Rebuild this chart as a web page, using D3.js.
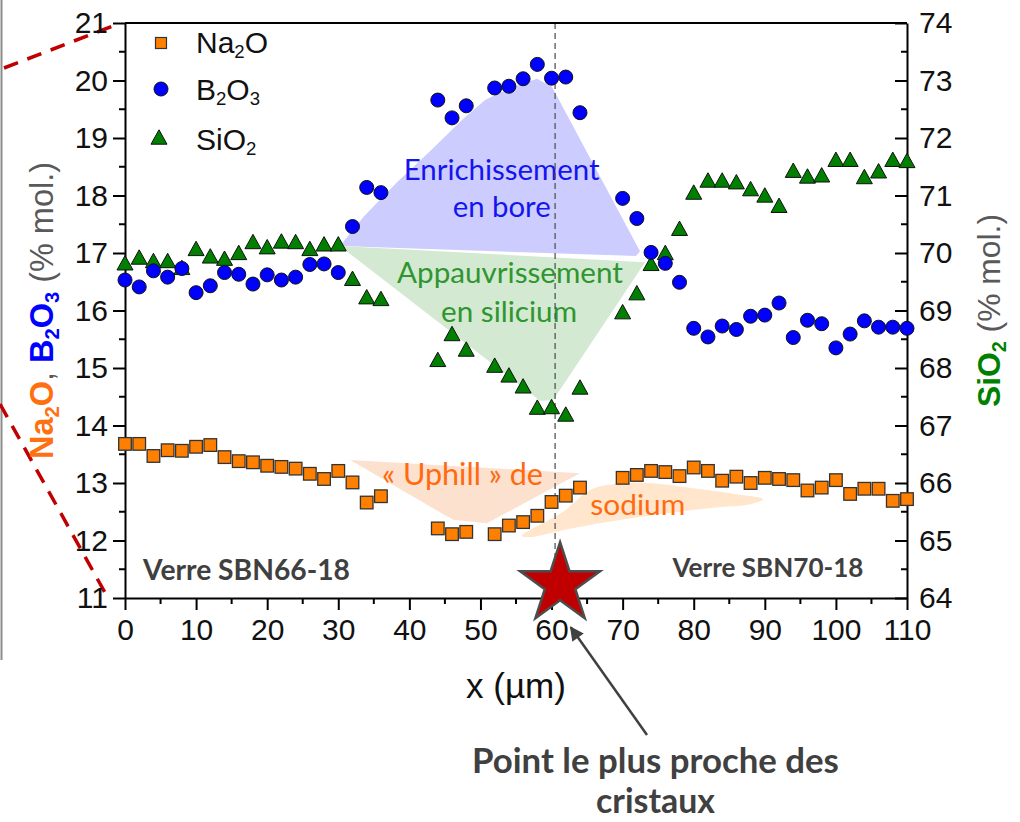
<!DOCTYPE html>
<html>
<head>
<meta charset="utf-8">
<script src="https://cdn.jsdelivr.net/npm/d3@7"></script>
<style>
  body { margin: 0; background: #fff; }
  svg { display: block; }
</style>
</head>
<body>
<div id="chart"></div>
<script>
// positions along the profile (µm)
const xPos = [0, 2, 4, 6, 8, 10, 12, 14, 16, 18, 20, 22, 24, 26, 28, 30, 32, 34, 36,
  44, 46, 48, 52, 54, 56, 58, 60, 62, 64,
  70, 72, 74, 76, 78, 80, 82, 84, 86, 88, 90, 92, 94, 96, 98, 100, 102, 104, 106, 108, 110];

const na2o = [13.68, 13.68, 13.47, 13.57, 13.56, 13.63, 13.66, 13.45, 13.38, 13.36, 13.30, 13.28, 13.25, 13.16, 13.07, 13.21, 13.01, 12.66, 12.77,
  12.21, 12.11, 12.15, 12.11, 12.26, 12.32, 12.43, 12.67, 12.78, 12.92,
  13.09, 13.14, 13.21, 13.19, 13.12, 13.27, 13.21, 13.04, 13.11, 13.00, 13.09, 13.07, 13.05, 12.87, 12.92, 13.05, 12.81, 12.90, 12.90, 12.69, 12.72];

const b2o3 = [16.53, 16.41, 16.69, 16.58, 16.73, 16.31, 16.43, 16.66, 16.63, 16.46, 16.62, 16.53, 16.58, 16.80, 16.81, 16.66, 17.46, 18.14, 18.05,
  19.66, 19.35, 19.56, 19.87, 19.90, 20.03, 20.28, 20.04, 20.06, 19.44,
  17.95, 17.60, 17.01, 16.82, 16.49, 15.69, 15.54, 15.73, 15.67, 15.90, 15.92, 16.13, 15.53, 15.83, 15.77, 15.35, 15.59, 15.82, 15.71, 15.71, 15.69];

const sio2 = [69.83, 69.93, 69.87, 69.87, 69.75, 70.08, 69.95, 69.91, 70.01, 70.20, 70.11, 70.21, 70.20, 70.08, 70.16, 70.16, 69.56, 69.24, 69.21,
  68.15, 68.60, 68.33, 68.05, 67.88, 67.69, 67.32, 67.33, 67.20, 67.67,
  68.98, 69.31, 69.82, 70.01, 70.43, 71.06, 71.27, 71.27, 71.24, 71.12, 71.01, 70.83, 71.44, 71.34, 71.36, 71.63, 71.63, 71.33, 71.43, 71.63, 71.61];

const xTicks = [0, 10, 20, 30, 40, 50, 60, 70, 80, 90, 100, 110];
const xMinor = [5, 15, 25, 35, 45, 55, 65, 75, 85, 95, 105];
const leftTicks = [11, 12, 13, 14, 15, 16, 17, 18, 19, 20, 21];
const leftMinor = [11.5, 12.5, 13.5, 14.5, 15.5, 16.5, 17.5, 18.5, 19.5, 20.5];
const rightTicks = [64, 65, 66, 67, 68, 69, 70, 71, 72, 73, 74];
const rightMinor = [64.5, 65.5, 66.5, 67.5, 68.5, 69.5, 70.5, 71.5, 72.5, 73.5];

// shaded zones, in (x µm, left-axis %) units
const boronZone = [[30.24, 17.12], [33.62, 17.64], [38.26, 18.23], [42.9, 18.77], [47.55, 19.33], [50.64, 19.66],
  [54.16, 19.87], [57.95, 20.03], [60.06, 19.89], [72.44, 17.03], [71.88, 16.95]];
const siliconZone = [[30.24, 17.12], [73.15, 16.84], [60.21, 14.44], [58.38, 14.43]];
const uphillZone = [[31.65, 13.40], [64.0, 13.17], [50.92, 12.30], [46.14, 12.36]];
const sodiumZone = [[55.85, 12.08], [61.61, 12.50], [65.41, 12.88], [68.65, 12.98], [73.43, 13.0], [80.46, 12.9],
  [85.81, 12.81], [89.75, 12.72], [87.5, 12.62], [82.72, 12.57], [68.65, 12.34], [61.61, 12.18], [56.97, 12.06]];

const crystalX = 60.5;

const width = 1020;
const height = 822;
const margin = { top: 23, right: 113, bottom: 224, left: 125 };

const x = d3.scaleLinear().domain([0, 110]).range([margin.left, width - margin.right]);
const yL = d3.scaleLinear().domain([11, 21]).range([height - margin.bottom, margin.top]);
const yR = d3.scaleLinear().domain([64, 74]).range([height - margin.bottom, margin.top]);

const svg = d3.select("#chart").append("svg")
  .attr("width", width)
  .attr("height", height)
  .style("font-family", "'Liberation Sans', Arial, sans-serif");

svg.append("rect").attr("width", width).attr("height", height).attr("fill", "#fff");

// frame / zoom cues from the composite figure
svg.append("line").attr("x1", 1.5).attr("x2", 1.5).attr("y1", 0).attr("y2", 660)
  .attr("stroke", "#8c8c8c").attr("stroke-width", 2);
svg.append("line").attr("x1", 4).attr("y1", 68).attr("x2", 118).attr("y2", 24)
  .attr("stroke", "#c00000").attr("stroke-width", 3.5).attr("stroke-dasharray", "15,10");
svg.append("line").attr("x1", 0).attr("y1", 404).attr("x2", 108).attr("y2", 598)
  .attr("stroke", "#c00000").attr("stroke-width", 3.5).attr("stroke-dasharray", "15,10");

const zoneLine = d3.line().x((d) => x(d[0])).y((d) => yL(d[1]));

svg.append("path").datum(boronZone)
  .attr("fill", "#ccccff")
  .attr("d", zoneLine.curve(d3.curveLinearClosed));
svg.append("path").datum(siliconZone)
  .attr("fill", "#d3e9d2")
  .attr("d", zoneLine.curve(d3.curveLinearClosed));
svg.append("path").datum(uphillZone)
  .attr("fill", "#fde1cf")
  .attr("d", zoneLine.curve(d3.curveLinearClosed));
svg.append("path").datum(sodiumZone)
  .attr("fill", "#ffe6cc")
  .attr("d", zoneLine.curve(d3.curveCatmullRomClosed));

function fitText(t, w) {
  const base = +t.attr("font-size");
  const len = t.node().getComputedTextLength();
  t.attr("font-size", (base * w) / len);
  return t;
}

const calibri = "Lato, 'Open Sans', sans-serif";

const notes = [
  { text: "Enrichissement", x: 52.99, y: 18.27, w: 196, color: "#1414f0" },
  { text: "en bore", x: 52.99, y: 17.63, w: 98, color: "#1414f0" },
  { text: "Appauvrissement", x: 54.16, y: 16.48, w: 226, color: "#2f962f" },
  { text: "en silicium", x: 54.02, y: 15.8, w: 136, color: "#2f962f" },
  { text: "« Uphill » de", x: 47.47, y: 12.97, w: 161, color: "#ff6a10" },
  { text: "sodium", x: 72.14, y: 12.44, w: 95, color: "#ff6a10" },
];

notes.forEach((n) => {
  const t = svg.append("text")
    .attr("x", x(n.x)).attr("y", yL(n.y))
    .attr("text-anchor", "middle")
    .attr("font-family", calibri)
    .attr("font-size", 26)
    .attr("fill", n.color)
    .text(n.text);
  fitText(t, n.w);
});

// vertical dashed line at the closest point to the crystals
svg.append("line")
  .attr("x1", x(crystalX)).attr("x2", x(crystalX))
  .attr("y1", yL(21)).attr("y2", yL(11))
  .attr("stroke", "#555").attr("stroke-width", 1.3).attr("stroke-dasharray", "6,4");

// axes
const axisFont = (g) => g.selectAll("text").attr("font-size", 30).attr("fill", "#111")
  .attr("font-family", "'Liberation Sans', Arial, sans-serif");

svg.append("g")
  .attr("transform", `translate(0,${yL(11)})`)
  .call(d3.axisBottom(x).tickValues(xTicks).tickSize(12).tickSizeOuter(0).tickPadding(9))
  .call(axisFont);
svg.append("g")
  .attr("transform", `translate(0,${yL(11)})`)
  .selectAll("line").data(xMinor).join("line")
  .attr("x1", (d) => x(d)).attr("x2", (d) => x(d)).attr("y1", 0).attr("y2", 6)
  .attr("stroke", "#000").attr("stroke-width", 2);

svg.append("g")
  .attr("transform", `translate(${x(0)},0)`)
  .call(d3.axisLeft(yL).tickValues(leftTicks).tickSize(12).tickSizeOuter(0).tickPadding(5))
  .call(axisFont);
svg.append("g")
  .attr("transform", `translate(${x(0)},0)`)
  .selectAll("line").data(leftMinor).join("line")
  .attr("y1", (d) => yL(d)).attr("y2", (d) => yL(d)).attr("x1", 0).attr("x2", -6)
  .attr("stroke", "#000").attr("stroke-width", 2);

svg.append("g")
  .attr("transform", `translate(${x(110)},0)`)
  .call(d3.axisRight(yR).tickValues(rightTicks).tickSizeInner(-12).tickSizeOuter(0).tickPadding(12))
  .call(axisFont);
svg.append("g")
  .attr("transform", `translate(${x(110)},0)`)
  .selectAll("line").data(rightMinor).join("line")
  .attr("y1", (d) => yR(d)).attr("y2", (d) => yR(d)).attr("x1", 0).attr("x2", -6)
  .attr("stroke", "#000").attr("stroke-width", 2);

svg.append("line")
  .attr("x1", x(0)).attr("x2", x(110)).attr("y1", yL(21)).attr("y2", yL(21))
  .attr("stroke", "#000").attr("stroke-width", 2);

svg.selectAll(".domain").attr("stroke-width", 2);
svg.selectAll(".tick line").attr("stroke-width", 2);

// markers
const tri = (s) => `M0,${-s * 0.9}L${s},${s * 0.9}L${-s},${s * 0.9}Z`;

const pts = xPos.map((d, i) => ({ x: d, na: na2o[i], b: b2o3[i], si: sio2[i] }));

svg.append("g").selectAll("path").data(pts).join("path")
  .attr("d", tri(8))
  .attr("transform", (d) => `translate(${x(d.x)},${yR(d.si)})`)
  .attr("fill", "#007f00").attr("stroke", "#111").attr("stroke-width", 1);

svg.append("g").selectAll("circle").data(pts).join("circle")
  .attr("cx", (d) => x(d.x)).attr("cy", (d) => yL(d.b)).attr("r", 7)
  .attr("fill", "#0000ff").attr("stroke", "#111").attr("stroke-width", 1);

svg.append("g").selectAll("rect").data(pts).join("rect")
  .attr("x", (d) => x(d.x) - 6.3).attr("y", (d) => yL(d.na) - 6.3)
  .attr("width", 12.6).attr("height", 12.6)
  .attr("fill", "#ff8000").attr("stroke", "#333").attr("stroke-width", 1.3);

// legend
const legend = svg.append("g").attr("font-size", 30).attr("fill", "#111");
legend.append("rect").attr("x", 155.5).attr("y", 37.5).attr("width", 11).attr("height", 11)
  .attr("fill", "#ff8000").attr("stroke", "#333").attr("stroke-width", 1.2);
legend.append("circle").attr("cx", 161).attr("cy", 89).attr("r", 7)
  .attr("fill", "#0000ff").attr("stroke", "#111");
legend.append("path").attr("d", tri(8)).attr("transform", "translate(159,137)")
  .attr("fill", "#007f00").attr("stroke", "#111");

const sub = (t, s) => {
  t.append("tspan").attr("font-size", "0.62em").attr("dy", "0.28em").text(s);
};
const lt1 = legend.append("text").attr("x", 196).attr("y", 53);
lt1.append("tspan").text("Na"); sub(lt1, "2"); lt1.append("tspan").attr("dy", "-0.174em").text("O");
const lt2 = legend.append("text").attr("x", 196).attr("y", 100);
lt2.append("tspan").text("B"); sub(lt2, "2"); lt2.append("tspan").attr("dy", "-0.174em").text("O"); sub(lt2, "3");
const lt3 = legend.append("text").attr("x", 196).attr("y", 150);
lt3.append("tspan").text("SiO"); sub(lt3, "2");

// axis titles
const xt = svg.append("text")
  .attr("x", x(55)).attr("y", 698)
  .attr("text-anchor", "middle").attr("font-size", 32).attr("fill", "#111")
  .text("x (µm)");
fitText(xt, 100);

const lt = svg.append("text")
  .attr("transform", `translate(53,${yL(16)}) rotate(-90)`)
  .attr("text-anchor", "middle").attr("font-size", 32).attr("fill", "#595959");
const bold = (t, s, c) => t.append("tspan").attr("font-weight", "bold").attr("fill", c).text(s);
const bsub = (t, s, c) => t.append("tspan").attr("font-weight", "bold").attr("fill", c)
  .attr("font-size", "0.62em").attr("dy", "0.28em").text(s);
const back = (t, s, c, w) => t.append("tspan").attr("font-weight", w).attr("fill", c).attr("dy", "-0.174em").text(s);
bold(lt, "Na", "#ff7010"); bsub(lt, "2", "#ff7010"); back(lt, "O", "#ff7010", "bold");
lt.append("tspan").attr("fill", "#595959").text(", ");
bold(lt, "B", "#0000ff"); bsub(lt, "2", "#0000ff"); back(lt, "O", "#0000ff", "bold"); bsub(lt, "3", "#0000ff");
back(lt, " (% mol.)", "#595959", "normal");
fitText(lt, 297);

const rt = svg.append("text")
  .attr("transform", `translate(1000,${yL(16)}) rotate(-90)`)
  .attr("text-anchor", "middle").attr("font-size", 32).attr("fill", "#595959");
bold(rt, "SiO", "#008000"); bsub(rt, "2", "#008000");
back(rt, " (% mol.)", "#595959", "normal");
fitText(rt, 193);

// glass labels
const glass = [
  { text: "Verre SBN66-18", x: 17.09, y: 11.31, w: 207 },
  { text: "Verre SBN70-18", x: 90.45, y: 11.37, w: 191 },
];
glass.forEach((g) => {
  const t = svg.append("text")
    .attr("x", x(g.x)).attr("y", yL(g.y))
    .attr("text-anchor", "middle").attr("font-family", calibri).attr("font-weight", "bold")
    .attr("font-size", 26).attr("fill", "#404040").text(g.text);
  fitText(t, g.w);
});

// star + arrow + caption
svg.append("path")
  .attr("d", d3.symbol(d3.symbolStar, 1980)())
  .attr("transform", `translate(${x(61.2)},${yL(11.24)})`)
  .attr("fill", "#c00000").attr("stroke", "#4d4d4d").attr("stroke-width", 2.5)
  .attr("stroke-linejoin", "miter");

svg.append("defs").append("marker")
  .attr("id", "head").attr("viewBox", "0 0 10 10").attr("refX", 9).attr("refY", 5)
  .attr("markerWidth", 16).attr("markerHeight", 14).attr("markerUnits", "userSpaceOnUse")
  .attr("orient", "auto")
  .append("path").attr("d", "M0,0L10,5L0,10Z").attr("fill", "#404040");

svg.append("line")
  .attr("x1", x(73.43)).attr("y1", yL(8.617))
  .attr("x2", x(62.7)).attr("y2", yL(10.49))
  .attr("stroke", "#404040").attr("stroke-width", 2.5)
  .attr("marker-end", "url(#head)");

const caption = [
  { text: "Point le plus proche des", y: 7.95, w: 367 },
  { text: "cristaux", y: 7.26, w: 119 },
];
caption.forEach((c) => {
  const t = svg.append("text")
    .attr("x", x(74.62)).attr("y", yL(c.y))
    .attr("text-anchor", "middle").attr("font-family", calibri).attr("font-weight", "bold")
    .attr("font-size", 26).attr("fill", "#404040").text(c.text);
  fitText(t, c.w);
});
</script>
</body>
</html>
